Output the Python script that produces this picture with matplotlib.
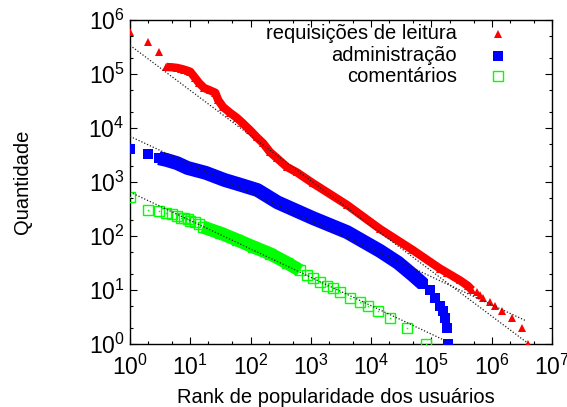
import numpy as np
import matplotlib
matplotlib.use("Agg")
import matplotlib.pyplot as plt
from matplotlib.ticker import LogLocator, NullFormatter, LogFormatterSciNotation

plt.rcParams['font.family'] = ['Liberation Sans', 'DejaVu Sans']
plt.rcParams['mathtext.fontset'] = 'custom'
plt.rcParams['mathtext.rm'] = 'Liberation Sans'
plt.rcParams['mathtext.it'] = 'Liberation Sans:italic'
plt.rcParams['mathtext.default'] = 'regular'

# rank-frequency data per activity type
red_rank = [1, 2, 3, 4, 5, 6, 7, 8, 9, 10, 12, 14, 17, 21, 26, 29, 35, 46, 59, 74,
            98, 126, 162, 209, 275, 400, 590, 1080, 4000, 14000, 49000, 138000,
            180000, 300000, 400000, 470000, 560000, 630000, 710000, 930000,
            1120000, 1480000, 2140000, 3160000, 3980000]
red_value = [6.0e5, 3.9e5, 2.6e5, 1.35e5, 1.33e5, 1.3e5, 1.25e5, 1.2e5, 1.15e5, 1.1e5,
             8.5e4, 6.8e4, 5.5e4, 5.0e4, 4.5e4, 3.3e4, 2.45e4, 1.9e4, 1.55e4, 1.23e4,
             9100, 6800, 5200, 3600, 2750, 1900, 1500, 950, 375, 135, 55, 25,
             21, 15, 12, 10, 9, 8, 7, 6, 5, 4, 3, 2, 1]

blue_rank = [1, 2, 3, 4, 6, 9, 18, 37, 70, 130, 280, 1080, 4000, 14000, 28000,
             49000, 72000, 95000, 115000, 138000, 155000, 166000, 180000, 187000]
blue_value = [4100, 3300, 2760, 2570, 2240, 1820, 1480, 1090, 880, 710, 420, 215,
              118, 53, 32, 19, 13, 10, 7, 5, 4, 3, 2, 1]

green_rank = [1, 2, 3, 4, 5, 6, 7, 8, 9, 10, 12, 14, 16, 31, 59, 110, 210, 400,
              660, 870, 1080, 1400, 1850, 2330, 3030, 4450, 6500, 8860, 13000,
              20400, 39000, 82000]
green_value = [525, 300, 290, 268, 255, 235, 220, 215, 205, 190, 180, 167, 147, 114,
               85, 63, 47, 32, 23, 19, 17, 14, 12, 11, 9, 7, 6, 5, 4, 3, 2, 1]

labels = ["requisições de leitura", "administração", "comentários"]

# power-law fits: value = coef * rank ** exp, drawn up to rank_max
fit_coef = [3.4e5, 7.0e3, 650]
fit_exp = [-0.836, -0.52, -0.526]
fit_rank_max = [3.98e6, 3.7e6, 1.87e5]

# rank span where the points are packed into a continuous band
dense_from = [4, 3, 16]
dense_to = [470000, 72000, 660]

fig = plt.figure(figsize=(5.67, 4.07), dpi=100)
ax = fig.add_axes([130 / 567, 1 - 344 / 407, 422 / 567, 324 / 407])

series = [
    (red_rank, red_value, dict(marker='^', color='#ff0000', ms=6.4, mew=0), 6.0),
    (blue_rank, blue_value, dict(marker='s', color='#0000ff', ms=7.8, mew=0), 10.0),
    (green_rank, green_value, dict(marker='s', mfc='none', mec='#00ff00', ms=7.4, mew=1.0), 9.5),
]

for i, (rank, value, style, band_lw) in enumerate(series):
    rank = np.array(rank, dtype=float)
    value = np.array(value, dtype=float)
    dense = (rank >= dense_from[i]) & (rank <= dense_to[i])
    band_color = style.get('color', style.get('mec'))
    ax.plot(rank[dense], value[dense], '-', color=band_color, lw=band_lw,
            solid_capstyle='butt', solid_joinstyle='round', zorder=2)
    ax.plot(rank, value, linestyle='none', zorder=3, **style)
    if i == 2:
        ax.plot(rank, value, linestyle='none', marker='s', ms=1, mew=0,
                color='#00ff00', zorder=3)

for coef, exp, rmax in zip(fit_coef, fit_exp, fit_rank_max):
    r = np.array([1.0, rmax])
    ax.plot(r, coef * r ** exp, color='#222222', lw=0.9, ls=(0, (1, 1.5)), zorder=4)

ax.set_xscale('log')
ax.set_yscale('log')
ax.set_xlim(1, 1e7)
ax.set_ylim(1, 1e6)

for axis in (ax.xaxis, ax.yaxis):
    axis.set_major_locator(LogLocator(base=10, numticks=20))
    axis.set_minor_locator(LogLocator(base=10, subs=(2.0, 5.0), numticks=20))
    axis.set_minor_formatter(NullFormatter())
    axis.set_major_formatter(LogFormatterSciNotation())

ax.tick_params(which='both', direction='in', top=True, right=True,
               labelsize=16.5, width=0.8)
ax.tick_params(which='major', length=5)
ax.tick_params(which='minor', length=2.5)
ax.tick_params(axis='x', which='major', pad=7.5)
ax.tick_params(axis='y', which='major', pad=4)
for sp in ax.spines.values():
    sp.set_linewidth(1.0)

ax.set_xlabel("Rank de popularidade dos usuários", fontsize=14.5)
ax.set_ylabel("Quantidade", fontsize=14.5)
ax.xaxis.set_label_coords(0.488, -0.136)
ax.yaxis.set_label_coords(-0.232, 0.5)

# legend: right-aligned text with the sample marker to its right
legend_y = [0.957, 0.889, 0.827]
legend_styles = [
    dict(marker='^', color='#ff0000', ms=6.0, mew=0),
    dict(marker='s', color='#0000ff', ms=7.3, mew=0),
    dict(marker='s', mfc='none', mec='#00ff00', ms=6.8, mew=1.0),
]
for text, y, style in zip(labels, legend_y, legend_styles):
    ax.text(0.775, y, text, transform=ax.transAxes, ha='right', va='center',
            fontsize=14.5)
    ax.plot([0.872], [y], transform=ax.transAxes, linestyle='none', clip_on=False,
            **style)

fig.savefig("out.png", dpi=100)
